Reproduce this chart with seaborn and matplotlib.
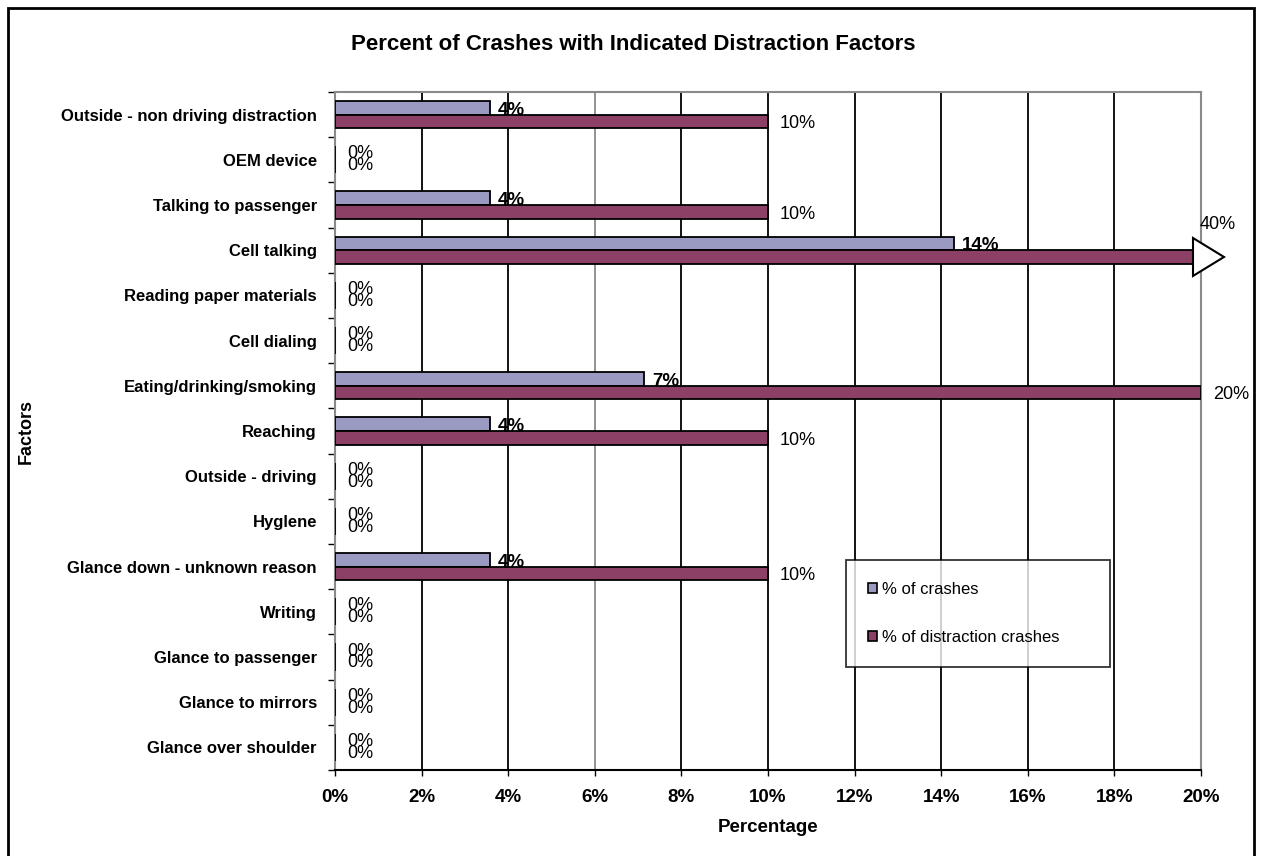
import matplotlib
matplotlib.use("Agg")
import matplotlib.pyplot as plt
import seaborn as sns
import pandas as pd
import numpy as np
from matplotlib.patches import Rectangle, Polygon
from matplotlib.ticker import FixedLocator, PercentFormatter

factors = [
    "Outside - non driving distraction", "OEM device", "Talking to passenger",
    "Cell talking", "Reading paper materials", "Cell dialing",
    "Eating/drinking/smoking", "Reaching", "Outside - driving", "Hyglene",
    "Glance down - unknown reason", "Writing", "Glance to passenger",
    "Glance to mirrors", "Glance over shoulder",
]
pct_crashes = [3.57, 0, 3.57, 14.29, 0, 0, 7.14, 3.57, 0, 0, 3.57, 0, 0, 0, 0]
pct_distraction = [10, 0, 10, 40, 0, 0, 20, 10, 0, 0, 10, 0, 0, 0, 0]
series_names = ["% of crashes", "% of distraction crashes"]
colors = ["#9393C9", "#993366"]
x_ticks = [0, 2, 4, 6, 8, 10, 12, 14, 16, 18, 20]
x_max = 20

df = pd.DataFrame({
    "Factor": factors * 2,
    "Percent": pct_crashes + pct_distraction,
    "Series": [series_names[0]] * len(factors) + [series_names[1]] * len(factors),
})

sns.set_theme(style="white")
plt.rcParams["font.family"] = ["Liberation Sans", "DejaVu Sans"]
for k in ["text.color", "axes.labelcolor", "xtick.color", "ytick.color"]:
    plt.rcParams[k] = "black"

fig = plt.figure(figsize=(12.62, 8.56), dpi=100)
ax = fig.add_axes([335 / 1262, 1 - 770 / 856, 866 / 1262, 678 / 856])

sns.barplot(data=df, y="Factor", x="Percent", hue="Series", orient="h",
            order=factors, hue_order=series_names, palette=colors,
            width=0.6, edgecolor="black", linewidth=1.3, ax=ax, zorder=3)

ax.set_xlim(0, x_max)
ax.set_ylim(len(factors) - 0.5, -0.5)
ax.set_xticks(x_ticks)
ax.xaxis.set_major_formatter(PercentFormatter(decimals=0))
ax.grid(axis="x", color="black", linewidth=1.3, zorder=0)
ax.set_axisbelow(True)
for i, gl in enumerate(ax.get_xgridlines()):
    if x_ticks[i] == 6:
        gl.set_color("#8a8a8a")
for s in ["top", "right", "left"]:
    ax.spines[s].set_color("#8a8a8a")
    ax.spines[s].set_linewidth(1.5)
ax.spines["bottom"].set_color("black")
ax.spines["bottom"].set_linewidth(1.5)

ax.tick_params(axis="x", which="major", bottom=True, length=4, width=1, color="black",
               pad=10, labelsize=13.5)
for lab in ax.get_xticklabels():
    lab.set_fontweight("bold")
ax.tick_params(axis="y", which="major", left=False, length=0, pad=13, labelsize=12)
for lab in ax.get_yticklabels():
    lab.set_fontweight("bold")
ax.yaxis.set_minor_locator(FixedLocator(np.arange(-0.5, len(factors), 1.0)))
ax.tick_params(axis="y", which="minor", left=True, length=5, width=1, color="black")

ax.set_xlabel("Percentage", fontsize=13.5, fontweight="bold")
ax.xaxis.set_label_coords(0.5, -0.072)
ax.set_ylabel("Factors", fontsize=13, fontweight="bold")
ax.yaxis.set_label_coords(-0.347, 0.5)

# data labels
px = x_max / 866.0
off = 0.15
lab_fs = 13
for i, (c, d) in enumerate(zip(pct_crashes, pct_distraction)):
    if c > 0:
        ax.text(min(c, x_max) + 8 * px, i - off + 0.05, f"{c:.0f}%", fontsize=13.5,
                fontweight="bold", va="center", ha="left", zorder=2)
    else:
        ax.text(12 * px, i - off + 0.02, "0%", fontsize=lab_fs, va="center", ha="left", zorder=2)
    if d > x_max:
        ax.add_patch(Polygon([[x_max - 8 * px, i + off - 0.42], [x_max + 23 * px, i + off],
                              [x_max - 8 * px, i + off + 0.42]], closed=True,
                             facecolor="white", edgecolor="black", linewidth=1.5,
                             clip_on=False, zorder=5))
        ax.text(x_max - 1 * px, i - 0.57, f"{d:.0f}%", fontsize=lab_fs, va="center",
                ha="left", clip_on=False, zorder=6)
    elif d > 0:
        ax.text(d + 12 * px, i + off + 0.05, f"{d:.0f}%", fontsize=lab_fs, va="center",
                ha="left", zorder=2, clip_on=False)
    else:
        ax.text(12 * px, i + off - 0.02, "0%", fontsize=lab_fs, va="center", ha="left", zorder=2)

leg = ax.legend(loc="center", bbox_to_anchor=(0.590, 0.152, 0.305, 0.158), mode="expand",
                borderaxespad=0, frameon=True, fancybox=False, fontsize=12, handlelength=0.55,
                handleheight=0.55, handletextpad=0.3, labelspacing=2.0, borderpad=1.3)
leg.get_frame().set_edgecolor("black")
leg.get_frame().set_linewidth(1.3)
for h in leg.legend_handles:
    h.set_edgecolor("black")
    h.set_linewidth(1.2)

fig.suptitle("Percent of Crashes with Indicated Distraction Factors",
             x=0.502, y=1 - 45 / 856, va="center", fontsize=16, fontweight="bold")

fig.patches.append(Rectangle((8 / 1262, -0.05), 1246 / 1262, 1 - 8 / 856 + 0.05,
                             transform=fig.transFigure, fill=False, edgecolor="black",
                             linewidth=2, zorder=10))

fig.savefig("out.png", dpi=100)
